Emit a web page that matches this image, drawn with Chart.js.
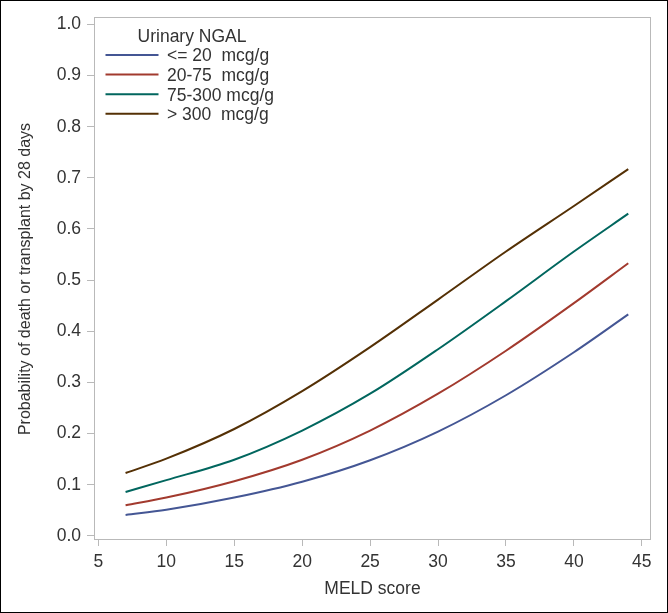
<!DOCTYPE html>
<html>
<head>
<meta charset="utf-8">
<script src="https://cdn.jsdelivr.net/npm/chart.js@4"></script>
<style>
  html, body { margin: 0; padding: 0; background: #fff; }
</style>
</head>
<body>
<canvas id="graph" width="668" height="613"></canvas>
<script>
// values
const meldScore = [7, 10, 15, 20, 25, 30, 35, 40, 44];
const ngalUpTo20 = [0.041, 0.051, 0.075, 0.106, 0.148, 0.204, 0.275, 0.359, 0.433];
const ngal20to75 = [0.060, 0.075, 0.107, 0.149, 0.206, 0.278, 0.362, 0.455, 0.533];
const ngal75to300 = [0.086, 0.109, 0.149, 0.206, 0.278, 0.365, 0.459, 0.556, 0.630];
const ngalOver300 = [0.123, 0.151, 0.209, 0.283, 0.369, 0.462, 0.556, 0.645, 0.717];
const seriesLabels = ['<= 20  mcg/g', '20-75  mcg/g', '75-300 mcg/g', '> 300  mcg/g'];
const seriesColors = ['#445694', '#a23a2e', '#01665e', '#543005'];
const xTicks = [5, 10, 15, 20, 25, 30, 35, 40, 45];
const yTicks = [0, 0.1, 0.2, 0.3, 0.4, 0.5, 0.6, 0.7, 0.8, 0.9, 1.0];

const FAMILY = '"Liberation Sans", Arial, sans-serif';
const FONT = { family: FAMILY, size: 17.5 };
const YTITLE_FONT = { family: FAMILY, size: 16 };
const TEXT = '#333333';
const FRAME = '#b9b9b9';

const toPoints = (ys) => ys.map((y, i) => ({ x: meldScore[i], y }));
const allSeries = [ngalUpTo20, ngal20to75, ngal75to300, ngalOver300];

const frameAndBorder = {
  id: 'frameAndBorder',
  beforeDatasetsDraw(chart) {
    const { ctx, chartArea: a } = chart;
    ctx.save();
    ctx.strokeStyle = FRAME;
    ctx.lineWidth = 1;
    ctx.strokeRect(a.left - 0.5, a.top - 0.5, a.right - a.left + 1, a.bottom - a.top);
    ctx.restore();
  },
  afterDraw(chart) {
    const ctx = chart.ctx;
    ctx.save();
    ctx.strokeStyle = '#000';
    ctx.lineWidth = 1;
    ctx.strokeRect(0.5, 0.5, chart.width - 1, chart.height - 1);
    ctx.restore();
  }
};

// legend sits inside the plot, top-left
const insideLegend = {
  id: 'insideLegend',
  afterDatasetsDraw(chart) {
    const { ctx, chartArea: a } = chart;
    const lineX = a.left + 10.5;
    const lineLen = 53;
    const textX = a.left + 72;
    const rowY = a.top + 37;
    const rowGap = 19.6;
    ctx.save();
    ctx.font = FONT.size + 'px ' + FONT.family;
    ctx.fillStyle = TEXT;
    ctx.textBaseline = 'middle';
    ctx.textAlign = 'center';
    ctx.fillText('Urinary NGAL', a.left + 97, a.top + 19);
    ctx.textAlign = 'left';
    chart.data.datasets.forEach((ds, i) => {
      const y = rowY + i * rowGap;
      ctx.strokeStyle = ds.borderColor;
      ctx.lineWidth = 2;
      ctx.beginPath();
      ctx.moveTo(lineX, y);
      ctx.lineTo(lineX + lineLen, y);
      ctx.stroke();
      ctx.fillText(ds.label, textX, y + 1.5);
    });
    ctx.restore();
  }
};

new Chart(document.getElementById('graph'), {
  type: 'line',
  data: {
    datasets: allSeries.map((ys, i) => ({
      label: seriesLabels[i],
      data: toPoints(ys),
      borderColor: seriesColors[i],
      borderWidth: 2,
      pointRadius: 0,
      fill: false,
      cubicInterpolationMode: 'monotone',
    })),
  },
  options: {
    responsive: false,
    devicePixelRatio: 1,
    animation: false,
    layout: { padding: { left: 0, top: 18, right: 18, bottom: 0 } },
    plugins: { legend: { display: false }, tooltip: { enabled: false } },
    scales: {
      x: {
        type: 'linear',
        min: 4.75,
        max: 45.6,
        afterBuildTicks: (scale) => { scale.ticks = xTicks.map(v => ({ value: v })); },
        afterFit: (scale) => { scale.height = 73; },
        border: { display: false },
        grid: { drawOnChartArea: false, color: FRAME, tickLength: 6 },
        ticks: { color: TEXT, font: FONT, padding: 6, maxRotation: 0 },
        title: { display: true, text: 'MELD score', color: TEXT, font: FONT, padding: { top: 0, bottom: 13 } },
      },
      y: {
        min: -0.008,
        max: 1.0125,
        afterBuildTicks: (scale) => { scale.ticks = yTicks.map(v => ({ value: v })); },
        afterFit: (scale) => { scale.width = 95; },
        border: { display: false },
        grid: { drawOnChartArea: false, color: FRAME, tickLength: 8 },
        ticks: { color: TEXT, font: FONT, padding: 6, callback: (v) => v.toFixed(1) },
        title: { display: true, text: 'Probability of death or transplant by 28 days', color: TEXT, font: YTITLE_FONT, padding: { top: 15.5, bottom: 0 } },
      },
    },
  },
  plugins: [frameAndBorder, insideLegend],
});
</script>
</body>
</html>
